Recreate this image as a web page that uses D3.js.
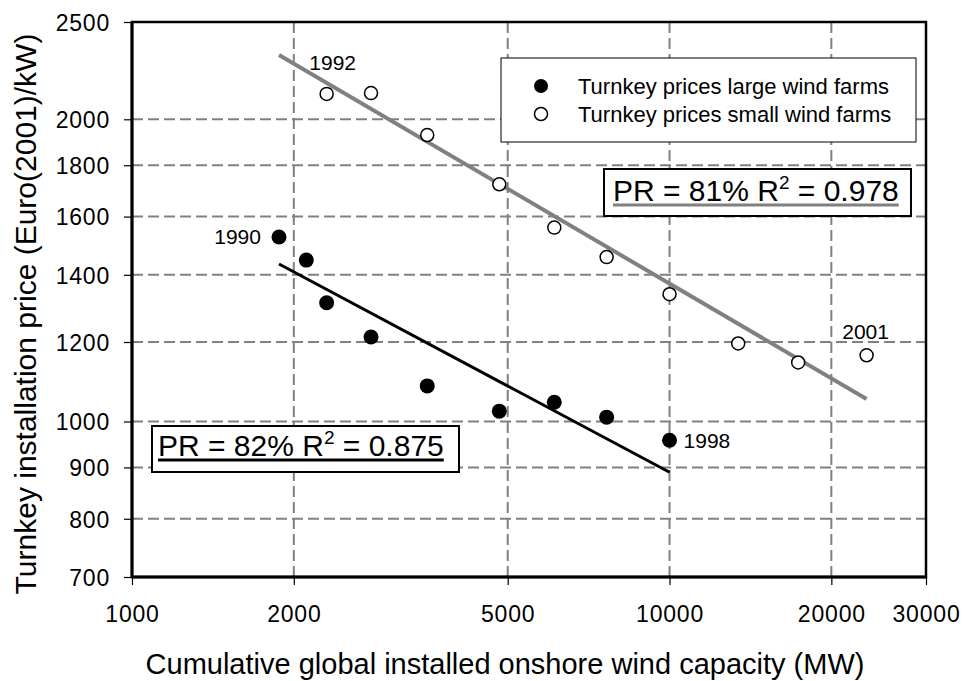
<!DOCTYPE html>
<html><head><meta charset="utf-8">
<script src="https://cdn.jsdelivr.net/npm/d3@7"></script>
<style>body{margin:0;background:#fff;} text{font-family:"Liberation Sans",Arial,sans-serif;}</style>
</head><body>
<svg id="chart" width="963" height="681"></svg>
<script>
// ---- data ----
const yearsLarge = [1990,1991,1992,1993,1994,1995,1996,1997,1998];
const capLarge   = [1877,2110,2302,2784,3542,4823,6104,7638,10000];
const priceLarge = [1527,1448,1313,1214,1085,1024,1045,1010,958];

const yearsSmall = [1992,1993,1994,1995,1996,1997,1998,1999,2000,2001];
const capSmall   = [2302,2784,3542,4823,6104,7638,10000,13420,17350,23260];
const priceSmall = [2120,2124,1929,1723,1560,1458,1339,1196,1145,1164];

const trendLargeX = [1877,10000], trendLargeY = [1435,890];
const trendSmallX = [1877,23260], trendSmallY = [2318,1053];

const xTicks = [1000,2000,5000,10000,20000,30000];
const xGrid  = [2000,5000,10000,20000];
const yTicks = [700,800,900,1000,1200,1400,1600,1800,2000,2500];
const yGrid  = [800,900,1000,1200,1400,1600,1800,2000];

const seriesNames = ["Turnkey prices large wind farms","Turnkey prices small wind farms"];
const xTitle = "Cumulative global installed onshore wind capacity (MW)";
const yTitle = "Turnkey installation price (Euro(2001)/kW)";

// ---- layout ----
const L=132, R=926, T=22, B=577;
const svg = d3.select("#chart");
const x = d3.scaleLog().domain([1000,30000]).range([L,R]);
const y = d3.scaleLog().domain([700,2500]).range([B,T]);
const grey = "#808080";

// gridlines
svg.append("g").selectAll("line").data(yGrid).join("line")
  .attr("x1",L).attr("x2",R).attr("y1",d=>y(d)).attr("y2",d=>y(d))
  .attr("stroke",grey).attr("stroke-width",2).attr("stroke-dasharray","11,5");
svg.append("g").selectAll("line").data(xGrid).join("line")
  .attr("y1",T).attr("y2",B).attr("x1",d=>x(d)).attr("x2",d=>x(d))
  .attr("stroke",grey).attr("stroke-width",2).attr("stroke-dasharray","11,5");

// axes
const fmt = d3.format("d");
const xAxis = svg.append("g").attr("transform",`translate(0,${B})`)
  .call(d3.axisBottom(x).tickValues(xTicks).tickFormat(fmt).tickSize(8).tickPadding(21));
const yAxis = svg.append("g").attr("transform",`translate(${L},0)`)
  .call(d3.axisLeft(y).tickValues(yTicks).tickFormat(fmt).tickSize(8).tickPadding(14));
[xAxis,yAxis].forEach(a=>{
  a.select(".domain").remove();
  a.selectAll(".tick line").attr("stroke","#000").attr("stroke-width",1.2);
  a.selectAll(".tick text").attr("font-size",23).attr("fill","#000")
    .attr("letter-spacing","0.8px")
    .style("font-family","'Liberation Sans',Arial,sans-serif");
});
yAxis.selectAll(".tick text").attr("dy","0.36em");

// frame
svg.append("rect").attr("x",L).attr("y",T).attr("width",R-L).attr("height",B-T)
  .attr("fill","none").attr("stroke","#000").attr("stroke-width",2.5);
svg.append("line").attr("x1",L).attr("x2",L).attr("y1",T).attr("y2",B+1).attr("stroke","#000").attr("stroke-width",3);
svg.append("line").attr("x1",L).attr("x2",R).attr("y1",B).attr("y2",B).attr("stroke","#000").attr("stroke-width",3);

// trend lines
const line = d3.line().x(d=>x(d[0])).y(d=>y(d[1]));
svg.append("path").datum(trendSmallX.map((v,i)=>[v,trendSmallY[i]]))
  .attr("d",line).attr("stroke",grey).attr("stroke-width",4).attr("fill","none");
svg.append("path").datum(trendLargeX.map((v,i)=>[v,trendLargeY[i]]))
  .attr("d",line).attr("stroke","#000").attr("stroke-width",3).attr("fill","none");

// points
svg.append("g").selectAll("circle").data(capLarge.map((c,i)=>[c,priceLarge[i]])).join("circle")
  .attr("cx",d=>x(d[0])).attr("cy",d=>y(d[1])).attr("r",7.5).attr("fill","#000");
svg.append("g").selectAll("circle").data(capSmall.map((c,i)=>[c,priceSmall[i]])).join("circle")
  .attr("cx",d=>x(d[0])).attr("cy",d=>y(d[1])).attr("r",6.5).attr("fill","#fff")
  .attr("stroke","#000").attr("stroke-width",1.5);

// year labels
const lab = (t,xx,yy,anchor)=>svg.append("text").attr("x",xx).attr("y",yy).attr("text-anchor",anchor)
  .attr("font-size",21).attr("fill","#000").text(t);
lab(yearsLarge[0], x(capLarge[0])-18, y(priceLarge[0])+7, "end");
lab(yearsSmall[0], x(capSmall[0])+6, y(priceSmall[0])-24, "middle");
lab(yearsLarge[yearsLarge.length-1], x(capLarge[8])+14, y(priceLarge[8])+8, "start");
lab(yearsSmall[yearsSmall.length-1], x(capSmall[9])-1, y(priceSmall[9])-16, "middle");

// legend
const lg = svg.append("g");
lg.append("rect").attr("x",501).attr("y",58).attr("width",415).attr("height",84)
  .attr("fill","#fff").attr("stroke","#000").attr("stroke-width",1);
lg.append("circle").attr("cx",541).attr("cy",86).attr("r",7).attr("fill","#000");
lg.append("circle").attr("cx",541).attr("cy",114).attr("r",6.5).attr("fill","#fff").attr("stroke","#000").attr("stroke-width",1.5);
lg.append("text").attr("x",578).attr("y",94).attr("font-size",22).text(seriesNames[0]);
lg.append("text").attr("x",578).attr("y",122).attr("font-size",22).text(seriesNames[1]);

// PR boxes
function prBox(bx,by,bw,bh,tx,ty,pr,r2,ucol){
  const g = svg.append("g");
  g.append("rect").attr("x",bx).attr("y",by).attr("width",bw).attr("height",bh)
    .attr("fill","#fff").attr("stroke","#000").attr("stroke-width",2);
  const t = g.append("text").attr("x",tx).attr("y",ty).attr("font-size",30).attr("fill","#000");
  t.append("tspan").text(`PR = ${pr}% R`);
  t.append("tspan").attr("font-size",19).attr("dy",-12).text("2");
  t.append("tspan").attr("dy",12).text(` = ${r2}`);
  const w = t.node().getComputedTextLength();
  g.append("line").attr("x1",tx).attr("x2",tx+w).attr("y1",ty+4).attr("y2",ty+4)
    .attr("stroke",ucol).attr("stroke-width",3);
}
prBox(152,426,307,46,158,456,82,"0.875","#000");
prBox(604,169,307,47,613,201,81,"0.978",grey);

// axis titles
svg.append("text").attr("x",505).attr("y",674).attr("text-anchor","middle")
  .attr("font-size",29).attr("fill","#000").text(xTitle);
svg.append("text").attr("transform","translate(36,314) rotate(-90)").attr("text-anchor","middle")
  .attr("font-size",30).attr("fill","#000").text(yTitle);
</script>
</body></html>
